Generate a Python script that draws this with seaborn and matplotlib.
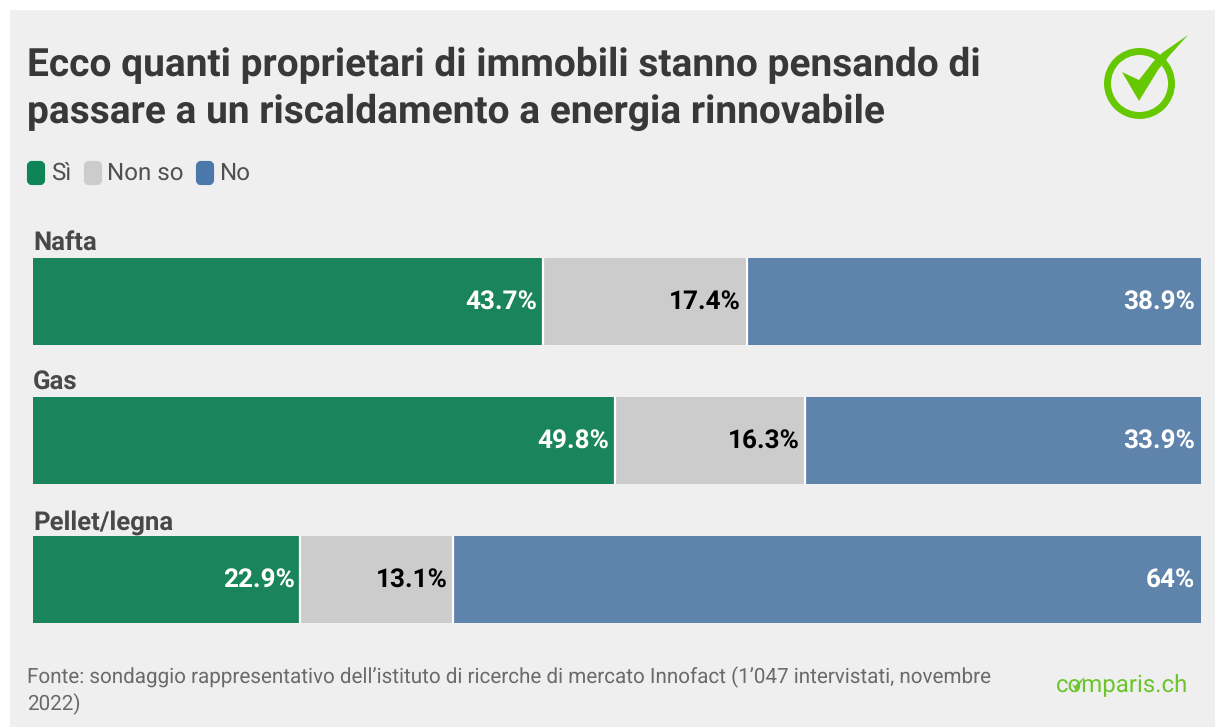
import matplotlib

matplotlib.use("Agg")
import matplotlib.pyplot as plt
import pandas as pd
import seaborn as sns
from matplotlib.patches import Circle, FancyBboxPatch, Polygon, Rectangle

categories = ["Nafta", "Gas", "Pellet/legna"]
si = [43.7, 49.8, 22.9]
non_so = [17.4, 16.3, 13.1]
no = [38.9, 33.9, 64.0]
value_labels_no = ["38.9%", "33.9%", "64%"]
series_names = ["Sì", "Non so", "No"]

title = "Ecco quanti proprietari di immobili stanno pensando di\npassare a un riscaldamento a energia rinnovabile"
source = (
    "Fonte: sondaggio rappresentativo dell’istituto di ricerche di mercato Innofact "
    "(1’047 intervistati, novembre\n2022)"
)

W, H = 1215, 727
bar_width = 0.626
colors = ["#1a855d", "#cccccc", "#5f84ab"]
legend_colors = ["#0f8457", "#cccccc", "#4a78aa"]
text_colors = ["white", "black", "white"]
green = "#66c800"

sns.set_theme(style="white")
plt.rcParams["font.family"] = ["Roboto", "DejaVu Sans"]
plt.rcParams["text.hinting"] = "no_hinting"

fig = plt.figure(figsize=(W / 100, H / 100), dpi=100, facecolor="white")

# overlay in pixel coords, for panel, header and logo
bg = fig.add_axes([0, 0, 1, 1], zorder=0)
bg.set(xlim=(0, W), ylim=(H, 0))
bg.axis("off")
bg.add_patch(Rectangle((10, 10), W - 10, H - 10, color="#efefef", lw=0))

bg.text(27, 89, title, fontsize=28.0, fontweight="bold", color="#383838",
        va="center", ha="left", linespacing=1.34)

# legend
for x, tx, name, c in zip([27, 84, 196], [51, 107, 219], series_names, legend_colors):
    bg.add_patch(FancyBboxPatch((x + 2, 163), 14, 20, boxstyle="round,pad=0,rounding_size=3",
                                mutation_aspect=1, fc=c, ec=c, lw=3))
    bg.text(tx, 173, name, fontsize=17.4, color="#505050", va="center", ha="left")

# logo check mark
bg.add_patch(Circle((1139.5, 83.5), 32, fc="none", ec=green, lw=5))
bg.add_patch(Polygon([(1122, 72), (1139, 80), (1153, 62), (1162, 53), (1188, 35),
                      (1170, 55), (1158, 70), (1139, 101)],
                     closed=True, fc=green, ec="none"))

bg.text(27, 690.5, source, fontsize=14.9, color="#6a6a6a", va="center", ha="left",
        linespacing=1.3)
bg.text(1188, 685, "comparis.ch", fontsize=17.3, color="#6cc52c", va="center", ha="right")
# small check in the "o" of the wordmark
bg.add_patch(Polygon([(1072, 684), (1075, 686), (1085, 676), (1076, 691)],
                     closed=True, fc="#6cc52c", ec="none"))

# the bars
ax = fig.add_axes([33 / W, (H - 649) / H, (1201 - 33) / W, (649 - 232) / H], zorder=1)
ax.patch.set_alpha(0)
df = pd.DataFrame({"cat": categories, "si": si, "non_so": non_so, "no": no})
left = [0.0, 0.0, 0.0]
for col, color, tc in zip(["si", "non_so", "no"], colors, text_colors):
    sns.barplot(data=df, x=col, y="cat", left=left, color=color, saturation=1,
                width=bar_width, edgecolor="none", linewidth=0, ax=ax)
    for i, v in enumerate(df[col]):
        label = value_labels_no[i] if col == "no" else f"{v}%"
        ax.text(left[i] + v - 0.5, i + 0.005, label, color=tc, fontsize=18.8,
                fontweight="bold", va="center", ha="right")
        # group label sits above the bar
        if col == "si":
            ax.text(0, i - 0.413, categories[i], fontsize=18.5, fontweight="bold",
                    color="#484848", va="center", ha="left")
        left[i] += v
        # white gap between segments
        if col != "no":
            ax.vlines(left[i], i - bar_width / 2, i + bar_width / 2, color="white", lw=1.6,
                      zorder=5)
ax.set(xlim=(0, 100), ylim=(2.5, -0.5), xlabel="", ylabel="", xticks=[], yticks=[])
sns.despine(ax=ax, left=True, bottom=True)

fig.savefig("out.png", dpi=100)
